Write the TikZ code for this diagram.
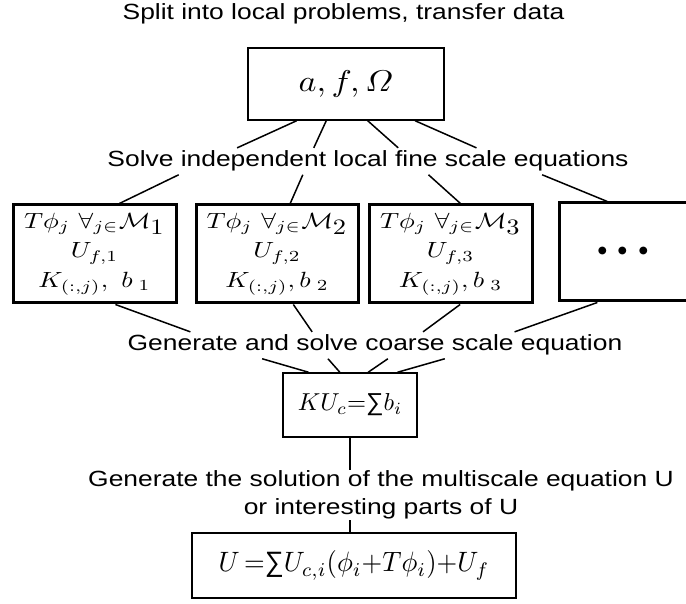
\documentclass[tikz,border=0pt]{standalone}
\usepackage[no-math]{fontspec}
\usepackage{graphicx}
\usetikzlibrary{calc,backgrounds}
\newfontfamily\labfont[FakeStretch=1.2]{Liberation Sans}
\newfontfamily\sumfont{Liberation Sans}
\newcommand\ms[3]{\scalebox{#1}[#2]{$#3$}}
\newcommand\mline[1]{\ms{2.64}{2.2}{#1}}
\newcommand\ssum{\mbox{\sumfont ∑}}
\tikzset{
  conn/.style={line width=1.5pt},
  thinbox/.style={draw, line width=1.5pt, inner sep=0pt},
  thickbox/.style={draw, line width=3pt, inner sep=0pt, align=center,
    minimum height=98pt, font=\fontsize{10}{29.5}\selectfont},
  lab/.style={font=\labfont\fontsize{22}{28}\selectfont, inner xsep=0pt, inner ysep=3pt},
}
\begin{document}
\begin{tikzpicture}[x=1pt,y=-1pt]
\useasboundingbox (0,0) rectangle (686,604);
\clip (0,0) rectangle (686,604);
\node[lab, anchor=base] (title) at (343.5,20) {Split into local problems, transfer data};
\node[thinbox, minimum width=196pt, minimum height=72pt] (top) at (346,84) {\ms{3.4}{3.0}{a,f,\mathnormal{\Omega}}};
\node[lab, anchor=base] (solve) at (368,167) {Solve independent local fine scale equations};
\node[thickbox, minimum width=163pt] (b1) at (94.5,254)
  {\mline{T\phi_j\ \forall_{j\in}\mathcal{M}_{\textstyle 1}}\\ \mline{U_{f,1}}\\ \mline{K_{(:,j)},\ b_{\;1}}};
\node[thickbox, minimum width=162pt] (b2) at (277,254)
  {\mline{T\phi_j\ \forall_{j\in}\mathcal{M}_{\textstyle 2}}\\ \mline{U_{f,2}}\\ \mline{K_{(:,j)},b_{\;2}}};
\node[thickbox, minimum width=163pt] (b3) at (450.5,254)
  {\mline{T\phi_j\ \forall_{j\in}\mathcal{M}_{\textstyle 3}}\\ \mline{U_{f,3}}\\ \mline{K_{(:,j)},b_{\;3}}};
\node[thickbox, minimum width=163pt] (b4) at (640.5,252) {};
\node[anchor=base, inner sep=0pt] (dots) at (623,269.5) {\ms{7.4}{7.4}{{\cdot}{\cdot}{\cdot}}};
\node[lab, anchor=base] (coarse) at (375,351) {Generate and solve coarse scale equation};
\node[thinbox, minimum width=134pt, minimum height=64pt] (kuc) at (350,405) {\ms{2.45}{2.45}{KU_c{=}\ssum b_i}};
\node[draw, line width=2pt, inner sep=0pt, minimum width=324pt, minimum height=65pt] (bot) at (354,565.5) {\ms{2.66}{2.8}{U\,{=}\ssum U_{c,i}(\phi_i{+}T\phi_i){+}U_f}};
\node[lab, align=center, fill=white, inner ysep=1pt] (gen) at (381,495) {Generate the solution of the multiscale equation U\\or interesting parts of U};
\begin{scope}[on background layer]
\draw[conn] ($(top.south west)!0.25!(top.south east)$) -- ($(solve.north west)!0.249!(solve.north east)$);
\draw[conn] ($(top.south west)!0.40!(top.south east)$) -- ($(solve.north west)!0.396!(solve.north east)$);
\draw[conn] ($(top.south west)!0.61!(top.south east)$) -- ($(solve.north west)!0.558!(solve.north east)$);
\draw[conn] ($(top.south west)!0.85!(top.south east)$) -- ($(solve.north west)!0.708!(solve.north east)$);
\draw[conn] ($(solve.south west)!0.137!(solve.south east)$) -- ($(b1.north west)!0.65!(b1.north east)$);
\draw[conn] ($(solve.south west)!0.375!(solve.south east)$) -- ($(b2.north west)!0.58!(b2.north east)$);
\draw[conn] ($(solve.south west)!0.616!(solve.south east)$) -- ($(b3.north west)!0.56!(b3.north east)$);
\draw[conn] ($(solve.south west)!0.834!(solve.south east)$) -- ($(b4.north west)!0.30!(b4.north east)$);
\draw[conn] ($(b1.south west)!0.626!(b1.south east)$) -- ($(coarse.north west)!0.127!(coarse.north east)$);
\draw[conn] ($(b2.south west)!0.599!(b2.south east)$) -- ($(coarse.north west)!0.373!(coarse.north east)$);
\draw[conn] ($(b3.south west)!0.558!(b3.south east)$) -- ($(coarse.north west)!0.597!(coarse.north east)$);
\draw[conn] ($(b4.south west)!0.24!(b4.south east)$) -- ($(coarse.north west)!0.782!(coarse.north east)$);
\draw[conn] ($(coarse.south west)!0.272!(coarse.south east)$) -- ($(kuc.north west)!0.194!(kuc.north east)$);
\draw[conn] ($(coarse.south west)!0.405!(coarse.south east)$) -- ($(kuc.north west)!0.425!(kuc.north east)$);
\draw[conn] ($(coarse.south west)!0.526!(coarse.south east)$) -- ($(kuc.north west)!0.634!(kuc.north east)$);
\draw[conn] ($(coarse.south west)!0.641!(coarse.south east)$) -- ($(kuc.north west)!0.851!(kuc.north east)$);
\draw[conn] (kuc.south) -- (kuc.south |- bot.north);
\end{scope}
\end{tikzpicture}
\end{document}
